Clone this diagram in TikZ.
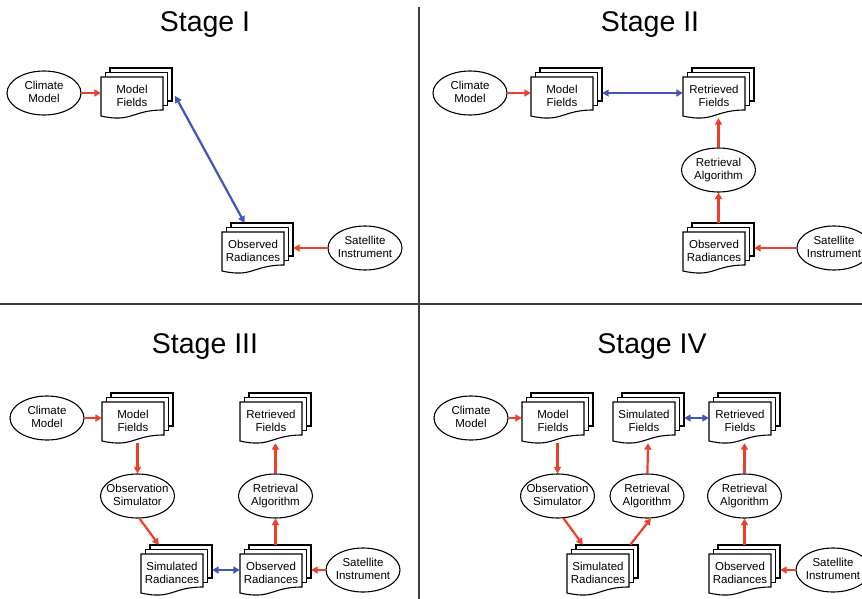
\documentclass[tikz,border=0pt]{standalone}
\usepackage{fontspec}
\setmainfont{Liberation Sans}
\usetikzlibrary{arrows.meta,shapes.geometric}
\definecolor{arrred}{RGB}{236,64,40}
\definecolor{arrblue}{RGB}{66,86,184}
\definecolor{divgray}{RGB}{60,60,60}
\newcommand\nodefont{\fontsize{11.5}{13}\selectfont}
\newcommand\titlefont{\fontsize{28.5}{34}\selectfont}
\newcommand\lbl[2]{\makebox[0pt][c]{\begin{tabular}{@{}c@{}}#1\\#2\end{tabular}}}
\newcommand\docstack[3]{%
  \begin{scope}[shift={(#2)}]
    \filldraw[docpage] (-22,-29) rectangle (40,4);
    \filldraw[docpage] (-26.5,-24.5) rectangle (35.5,8.5);
    \filldraw[docpage] (-31,-20) -- (31,-20) -- (31,13) .. controls (0,13) and (0,26) .. (-31,19) -- cycle;
    \node[stackbox] (#1) at (4.5,-4) {};
    \node[doctext] (#1t) at (0,0) {#3};
  \end{scope}}
\begin{document}
\begin{tikzpicture}[x=1pt,y=-1pt,
  docpage/.style={draw=black, fill=white, line width=1.1pt, line join=miter},
  stackbox/.style={rectangle, inner sep=0pt, minimum width=71pt, minimum height=50pt},
  doctext/.style={inner sep=0pt, font=\nodefont},
  ell/.style={draw, ellipse, fill=white, line width=1.1pt, minimum width=74pt, minimum height=44pt, inner sep=0pt, font=\nodefont},
  redarrow/.style={draw=arrred, line width=2.2pt, -{Triangle[length=6.5pt,width=7pt]}},
  bluearrow/.style={draw=arrblue, line width=2.2pt, {Triangle[length=6.5pt,width=7pt]}-{Triangle[length=6.5pt,width=7pt]}},
  stagetitle/.style={anchor=base, font=\titlefont, inner sep=0pt},
  divider/.style={draw=divgray, line width=2pt}]
\useasboundingbox (0,0) rectangle (862,599);
\fill[white] (0,0) rectangle (862,599);

% dividers
\coordinate (vtop) at (419,7);
\coordinate (vbot) at (419,599);
\coordinate (hl) at (0,304);
\coordinate (hr) at (862,304);
\draw[divider] (vtop) -- (vbot);
\draw[divider] (hl) -- (hr);

% titles
\node[stagetitle] (t1) at (205,32) {Stage I};
\node[stagetitle] (t2) at (650,32) {Stage II};
\node[stagetitle] (t3) at (205,353) {Stage III};
\node[stagetitle] (t4) at (652,353) {Stage IV};

% ---------- Stage I ----------
\node[ell] (cm1) at (44,93) {\lbl{Climate}{Model}};
\docstack{mf1}{132,97}{\lbl{Model}{Fields}}
\docstack{or1}{253,252}{\lbl{Observed}{Radiances}}
\node[ell] (si1) at (365,248) {\lbl{Satellite}{Instrument}};
\draw[redarrow] (cm1) -- (mf1);
\draw[redarrow] (si1) -- (or1);
\draw[bluearrow] ([shift={(3pt,-3pt)}]mf1.east) -- ([xshift=-13pt]or1.north);

% ---------- Stage II ----------
\node[ell] (cm2) at (470,93) {\lbl{Climate}{Model}};
\docstack{mf2}{562,97}{\lbl{Model}{Fields}}
\docstack{rf2}{714,97}{\lbl{Retrieved}{Fields}}
\node[ell] (ra2) at (718.5,170) {\lbl{Retrieval}{Algorithm}};
\docstack{or2}{714,252}{\lbl{Observed}{Radiances}}
\node[ell] (si2) at (834,248) {\lbl{Satellite}{Instrument}};
\draw[redarrow] (cm2) -- (mf2);
\draw[bluearrow] (mf2) -- (rf2);
\draw[redarrow] (ra2) -- (rf2);
\draw[redarrow] (or2) -- (ra2);
\draw[redarrow] (si2) -- (or2);

% ---------- Stage III ----------
\node[ell] (cm3) at (47,418) {\lbl{Climate}{Model}};
\docstack{mf3}{133,422}{\lbl{Model}{Fields}}
\node[ell] (os3) at (137.5,496) {\lbl{Observation}{Simulator}};
\docstack{sr3}{172,574}{\lbl{Simulated}{Radiances}}
\docstack{or3}{271,574}{\lbl{Observed}{Radiances}}
\node[ell] (si3) at (363,570) {\lbl{Satellite}{Instrument}};
\node[ell] (ra3) at (275.5,496) {\lbl{Retrieval}{Algorithm}};
\docstack{rf3}{271,422}{\lbl{Retrieved}{Fields}}
\draw[redarrow] (cm3) -- (mf3);
\draw[redarrow] (mf3) -- (os3);
\draw[redarrow] (os3.-85) -- ([xshift=18pt]sr3.north west);
\draw[bluearrow] (sr3) -- (or3);
\draw[redarrow] (si3) -- (or3);
\draw[redarrow] (or3) -- (ra3);
\draw[redarrow] (ra3) -- (rf3);

% ---------- Stage IV ----------
\node[ell] (cm4) at (471,418) {\lbl{Climate}{Model}};
\docstack{mf4}{553,422}{\lbl{Model}{Fields}}
\node[ell] (os4) at (557.5,496) {\lbl{Observation}{Simulator}};
\docstack{sr4}{598,574}{\lbl{Simulated}{Radiances}}
\node[ell] (ra4a) at (647,496) {\lbl{Retrieval}{Algorithm}};
\docstack{sf4}{644,422}{\lbl{Simulated}{Fields}}
\docstack{rf4}{740,422}{\lbl{Retrieved}{Fields}}
\node[ell] (ra4b) at (744.5,496) {\lbl{Retrieval}{Algorithm}};
\docstack{or4}{740,574}{\lbl{Observed}{Radiances}}
\node[ell] (si4) at (833,570) {\lbl{Satellite}{Instrument}};
\draw[redarrow] (cm4) -- (mf4);
\draw[redarrow] (mf4) -- (os4);
\draw[redarrow] (os4.-75) -- ([xshift=16pt]sr4.north west);
\draw[redarrow] ([xshift=-8pt]sr4.north east) -- (ra4a.-80);
\draw[redarrow] (ra4a) -- (sf4);
\draw[bluearrow] (sf4) -- (rf4);
\draw[redarrow] (ra4b) -- (rf4);
\draw[redarrow] (or4) -- (ra4b);
\draw[redarrow] (si4) -- (or4);
\end{tikzpicture}
\end{document}
